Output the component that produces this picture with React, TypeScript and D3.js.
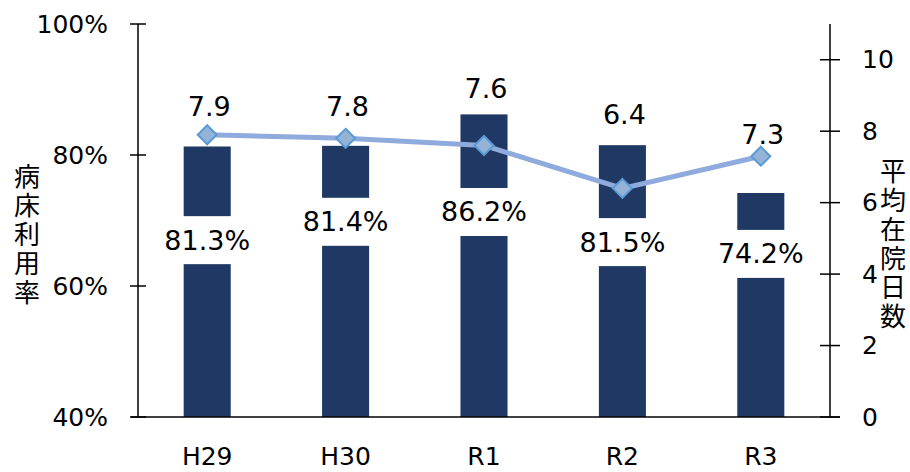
import React from 'react';
import * as d3 from 'd3';

// データ
const categories = ['H29', 'H30', 'R1', 'R2', 'R3'];
const bedRate = [81.3, 81.4, 86.2, 81.5, 74.2]; // 病床利用率 (%)
const avgDays = [7.9, 7.8, 7.6, 6.4, 7.3]; // 平均在院日数
const leftTicks = [40, 60, 80, 100];
const rightTicks = [0, 2, 4, 6, 8, 10];

// ラベルの置き場所 (軸の単位で)
const rateLabelAt = [67.0, 69.8, 71.3, 66.7, 64.9];
const dayLabelAt = [8.68, 8.68, 9.19, 8.46, 7.9];

const leftTitle = '病床利用率';
const rightTitle = '平均在院日数';

const W = 910;
const H = 472;
const margin = { top: 24, right: 80, bottom: 55, left: 138 };
const font = '"DejaVu Sans", Verdana, sans-serif';
const cjk = '"Noto Sans CJK JP", sans-serif';

export default function App() {
  const x = d3
    .scaleBand<string>()
    .domain(categories)
    .range([margin.left, W - margin.right])
    .paddingInner(0.66)
    .paddingOuter(0.33);

  const yL = d3.scaleLinear().domain([40, 100]).range([H - margin.bottom, margin.top]);
  const yR = d3.scaleLinear().domain([0, 11]).range([H - margin.bottom, margin.top]);

  const cx = (c: string) => (x(c) as number) + x.bandwidth() / 2;

  const line = d3
    .line<number>()
    .x((_, i) => cx(categories[i]))
    .y((d) => yR(d));

  const x0 = margin.left;
  const x1 = W - margin.right;
  const yb = H - margin.bottom;

  const vertical: React.CSSProperties = {
    writingMode: 'vertical-rl',
    textOrientation: 'upright',
    letterSpacing: '3px',
  };

  return (
    <svg width={W} height={H} style={{ position: 'absolute', left: 0, top: 0, background: '#fff' }}>
      {/* 棒 */}
      {bedRate.map((v, i) => (
        <rect
          key={'b' + i}
          x={x(categories[i])}
          y={yL(v)}
          width={x.bandwidth()}
          height={yb - yL(v)}
          fill="#203864"
        />
      ))}

      {/* 棒のラベル (白い背景つき) */}
      {bedRate.map((v, i) => (
        <g key={'bl' + i}>
          <rect x={cx(categories[i]) - 46} y={yL(rateLabelAt[i]) - 24} width={92} height={48} fill="#fff" />
          <text
            x={cx(categories[i])}
            y={yL(rateLabelAt[i])}
            textAnchor="middle"
            dominantBaseline="central"
            fontFamily={font}
            fontSize={27}
            fill="#000"
          >
            {v.toFixed(1)}%
          </text>
        </g>
      ))}

      {/* 軸 */}
      <line x1={x0} x2={x0} y1={margin.top} y2={yb} stroke="#000" strokeWidth={1.5} />
      <line x1={x1} x2={x1} y1={margin.top} y2={yb} stroke="#000" strokeWidth={1.5} />
      <line x1={x0 - 7} x2={x1 + 10} y1={yb} y2={yb} stroke="#000" strokeWidth={1.5} />

      {leftTicks.map((t) => (
        <g key={'lt' + t}>
          <line x1={x0 - 8} x2={x0 + 8} y1={yL(t)} y2={yL(t)} stroke="#000" strokeWidth={1.5} />
          <text x={108} y={yL(t)} textAnchor="end" dominantBaseline="central" fontFamily={font} fontSize={25}>
            {t}%
          </text>
        </g>
      ))}

      {rightTicks.map((t) => (
        <g key={'rt' + t}>
          <line x1={x1 - 10} x2={x1 + 10} y1={yR(t)} y2={yR(t)} stroke="#000" strokeWidth={1.5} />
          <text x={862} y={yR(t)} textAnchor="start" dominantBaseline="central" fontFamily={font} fontSize={25}>
            {t}
          </text>
        </g>
      ))}

      {categories.map((c) => (
        <text key={'c' + c} x={cx(c)} y={456} textAnchor="middle" dominantBaseline="central" fontFamily={font} fontSize={25}>
          {c}
        </text>
      ))}

      {/* 折れ線 */}
      <path d={line(avgDays) as string} fill="none" stroke="#8FAADC" strokeWidth={5} />
      {avgDays.map((v, i) => {
        const px = cx(categories[i]);
        const py = yR(v);
        return (
          <path
            key={'m' + i}
            d={`M${px},${py - 9.5}L${px + 9.5},${py}L${px},${py + 9.5}L${px - 9.5},${py}Z`}
            fill="#95B3D7"
            stroke="#5B9BD5"
            strokeWidth={2}
          />
        );
      })}
      {avgDays.map((v, i) => (
        <text
          key={'ml' + i}
          x={cx(categories[i]) + 2}
          y={yR(dayLabelAt[i])}
          textAnchor="middle"
          dominantBaseline="central"
          fontFamily={font}
          fontSize={27}
        >
          {v.toFixed(1)}
        </text>
      ))}

      {/* 軸タイトル (縦書き) */}
      <text x={27} y={163} fontFamily={cjk} fontSize={26} style={vertical}>
        {leftTitle}
      </text>
      <text x={893} y={158} fontFamily={cjk} fontSize={26} style={vertical}>
        {rightTitle}
      </text>
    </svg>
  );
}
